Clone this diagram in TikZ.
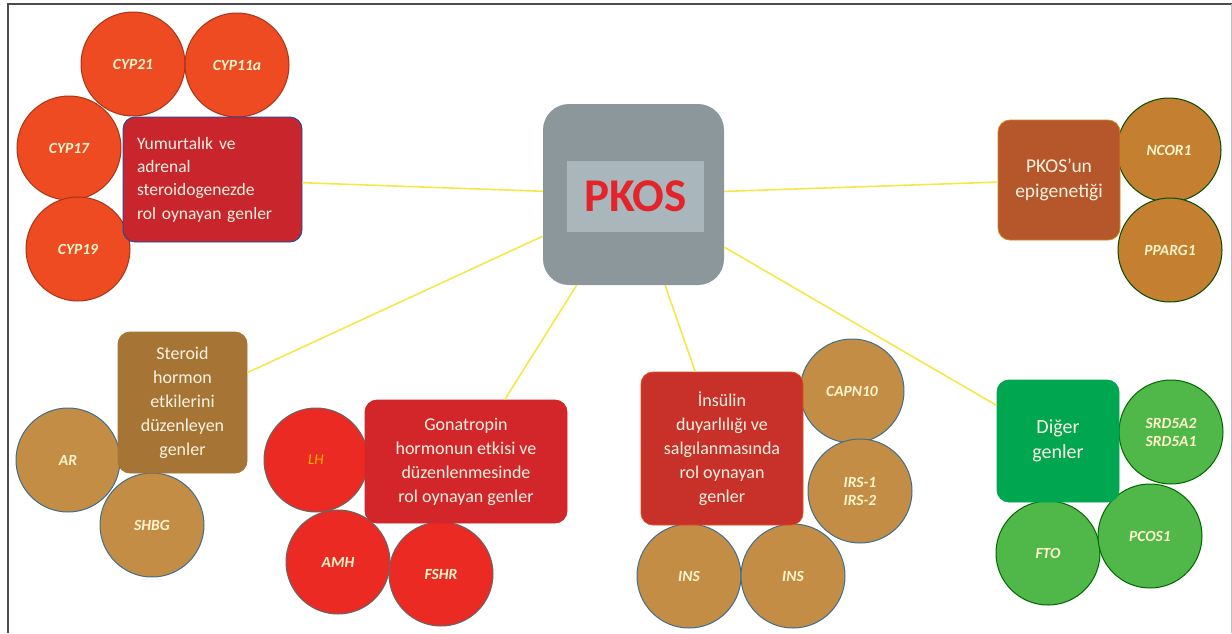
\documentclass[tikz,border=0pt]{standalone}
\usepackage{fontspec}
\setmainfont{Carlito}
\definecolor{linkyellow}{HTML}{F7E64A}
\definecolor{boxtext}{HTML}{FDF3E2}
\definecolor{genetext}{HTML}{FFF6CC}
\definecolor{pkosgray}{HTML}{8C979C}
\definecolor{pkosinner}{HTML}{A9B7BD}
\definecolor{pkosred}{HTML}{E3242B}
\definecolor{cypfill}{HTML}{EE4B22}
\definecolor{cypbox}{HTML}{C8252C}
\definecolor{epibox}{HTML}{B5562B}
\definecolor{epifill}{HTML}{C47F30}
\definecolor{sterbox}{HTML}{A67434}
\definecolor{brownfill}{HTML}{C48D45}
\definecolor{browndraw}{HTML}{3D6E8A}
\definecolor{gonbox}{HTML}{D2262A}
\definecolor{gonfill}{HTML}{EA2A23}
\definecolor{insbox}{HTML}{C8302A}
\definecolor{digbox}{HTML}{00A650}
\definecolor{digfill}{HTML}{4FB848}

\begin{document}
\begin{tikzpicture}[x=1pt,y=-1pt,
  gene/.style = {circle,draw,line width=1pt,minimum size=104pt,inner sep=0pt,outer sep=0pt,
                 text=genetext,font=\fontsize{15.5}{18}\selectfont\bfseries\itshape,align=center},
  group/.style = {rectangle,rounded corners=12pt,draw,line width=0.8pt,text=boxtext,
                  font=\fontsize{18}{24}\selectfont,align=center,inner sep=0pt},
  link/.style = {draw=linkyellow,line width=1.6pt}]
\useasboundingbox (0,0) rectangle (1232,633);
\draw[line width=1.3pt,color=black!70] (8,633) -- (8,4) -- (1232,4);
\draw[line width=1pt,color=black!25] (1231,4) -- (1231,633);

% center
\node[rectangle,rounded corners=26pt,fill=pkosgray,minimum width=181pt,minimum height=181pt] (pkos) at (633.5,194.5) {};
\node[rectangle,fill=pkosinner,minimum width=137pt,minimum height=71pt,text=pkosred,
      font=\fontsize{47}{47}\selectfont\bfseries] (pkoslabel) at (635.5,196.5) {PKOS};

% ovary / adrenal
\foreach \name/\x/\y/\txt in {cyp21/133/64/CYP21, cyp11/237/65/CYP11a, cyp17/69/148/CYP17, cyp19/78/249/CYP19}
  \node[gene,fill=cypfill,draw=cypfill!70!black] (\name) at (\x,\y) {\txt};
\node[group,fill=cypbox,draw=blue!55!cyan!70!black,minimum width=179pt,minimum height=125pt,
      text width=151pt,align=left,font=\fontsize{17.5}{23.3}\selectfont] (ovary) at (212.5,179.5)
  {Yumurtalık ve\\adrenal\\steroidogenezde\\rol oynayan genler};

% epigenetics
\foreach \name/\x/\y/\txt in {ncor/1169/150/NCOR1, pparg/1170/250/PPARG1}
  \node[gene,fill=epifill,draw=green!30!black] (\name) at (\x,\y) {\txt};
\node[group,fill=epibox,draw=epibox!70!yellow,minimum width=122pt,minimum height=120pt,
      font=\fontsize{19.5}{25}\selectfont] (epi) at (1059,180) {PKOS’un\\epigenetiği};

% steroid hormone
\foreach \name/\x/\y/\txt in {ar/68/460/AR, shbg/152/525/SHBG}
  \node[gene,fill=brownfill,draw=browndraw] (\name) at (\x,\y) {\txt};
\node[group,fill=sterbox,draw=sterbox,minimum width=129pt,minimum height=141pt] (steroid) at (182.5,402.5)
  {Steroid\\hormon\\etkilerini\\düzenleyen\\genler};

% gonadotropin
\node[gene,fill=gonfill,draw=black!60,font=\fontsize{15}{18}\selectfont\itshape,text=orange!60!yellow] (lh) at (316,460) {LH};
\foreach \name/\x/\y/\txt in {amh/338/562/AMH, fshr/441/574/FSHR}
  \node[gene,fill=gonfill,draw=black!60] (\name) at (\x,\y) {\txt};
\node[group,fill=gonbox,draw=gonbox,minimum width=202pt,minimum height=123pt] (gonad) at (466,461.5)
  {Gonatropin\\hormonun etkisi ve\\düzenlenmesinde\\rol oynayan genler};

% insulin
\foreach \name/\x/\y/\txt in {capn/852/391/CAPN10, irs/860/491/{IRS-1\\IRS-2}, insa/689/576/INS, insb/793/576/INS}
  \node[gene,fill=brownfill,draw=browndraw] (\name) at (\x,\y) {\txt};
\node[group,fill=insbox,draw=insbox!60!orange,minimum width=162pt,minimum height=153pt] (insulin) at (722,448.5)
  {İnsülin\\duyarlılığı ve\\salgılanmasında\\rol oynayan\\genler};

% other
\foreach \name/\x/\y/\txt in {srd/1171/432/{SRD5A2\\SRD5A1}, fto/1048/553/FTO, pcos/1150/536/PCOS1}
  \node[gene,fill=digfill,draw=green!40!black] (\name) at (\x,\y) {\txt};
\node[group,fill=digbox,draw=digbox,minimum width=122pt,minimum height=122pt,
      font=\fontsize{20}{25}\selectfont] (other) at (1058,441) {Diğer\\genler};

\draw[link] (pkos) -- (ovary);
\draw[link] (pkos) -- (epi);
\draw[link] (pkos) -- (steroid);
\draw[link] (pkos) -- (gonad);
\draw[link] (pkos) -- (insulin);
\draw[link] (pkos) -- (other);
\end{tikzpicture}
\end{document}
